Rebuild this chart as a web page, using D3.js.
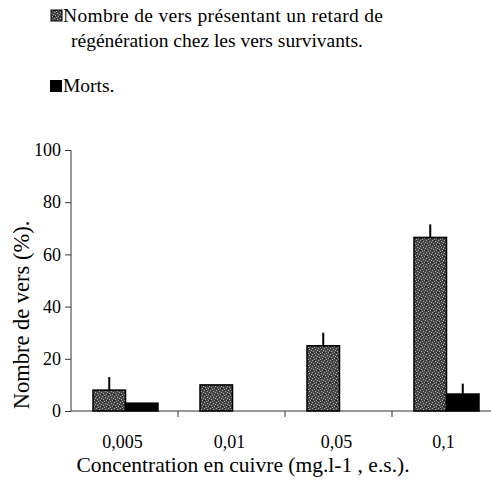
<!DOCTYPE html>
<html><head><meta charset="utf-8">
<script src="https://cdn.jsdelivr.net/npm/d3@7"></script>
</head>
<body style="margin:0;background:#fff"><svg id="c" width="491" height="481" font-family="Liberation Serif"></svg>
<script>
const categories = ["0,005", "0,01", "0,05", "0,1"];
const seriesNames = ["Nombre de vers présentant un retard de régénération chez les vers survivants.", "Morts."];
const retardValues = [8, 10, 25, 66.5];
const retardErrors = [5, 0, 5, 5];
const mortsValues = [3, 0, 0, 6.5];
const mortsErrors = [0, 0, 0, 4];
const yTicks = [0, 20, 40, 60, 80, 100];

const svg = d3.select("#c");
const defs = svg.append("defs");
const pat = defs.append("pattern").attr("id","stip").attr("patternUnits","userSpaceOnUse").attr("width",6).attr("height",6);
pat.append("rect").attr("width",6).attr("height",6).attr("fill","#474747");
[[0,0],[3,1],[1,3],[4,4],[2,5],[5,2]].forEach(([x,y])=>pat.append("rect").attr("x",x).attr("y",y).attr("width",1).attr("height",1).attr("fill","#a8a8a8"));
[[2,0],[5,4],[0,4]].forEach(([x,y])=>pat.append("rect").attr("x",x).attr("y",y).attr("width",1).attr("height",1).attr("fill","#222"));

const x0 = d3.scaleBand().domain(categories).range([71, 499]).padding(0);
const x1 = d3.scaleBand().domain([0,1]).range([22, 87]).padding(0);
const y = d3.scaleLinear().domain([0, 100]).range([411, 150]);

function st(sel, size){
  sel.attr("font-family","Liberation Serif").attr("font-size",size)
     .style("font-family","Liberation Serif").style("font-size",size+"px");
}

// y axis
const yAxis = svg.append("g").attr("transform","translate(71,0)")
  .call(d3.axisLeft(y).tickValues(yTicks).tickSize(6).tickPadding(4));
yAxis.attr("font-family","Liberation Serif").attr("font-size",18);
yAxis.select(".domain").attr("stroke","#333").attr("d","M0,411V150");
yAxis.selectAll("text").call(st, 18);
yAxis.selectAll(".tick line").attr("stroke","#333");

// x axis
const xg = svg.append("g").attr("transform","translate(0,411)");
xg.append("line").attr("x1",71).attr("x2",491).attr("stroke","#333").attr("stroke-width",1.2);
const bounds = categories.slice(1).map(c=>x0(c));
xg.selectAll(".xt").data(bounds).join("line").attr("x1",d=>d).attr("x2",d=>d).attr("y1",0).attr("y2",6).attr("stroke","#333");
xg.selectAll(".xl").data(categories).join("text")
  .attr("x",d=>x0(d)+x0.bandwidth()/2-2).attr("y",37).attr("text-anchor","middle")
  .call(st, 18).text(d=>d);

const groups = categories.map((c,i)=>[
  {c, s:0, v:retardValues[i], e:retardErrors[i]},
  {c, s:1, v:mortsValues[i], e:mortsErrors[i]}
]).flat();

const g = svg.append("g");
g.selectAll(".err").data(groups.filter(d=>d.e>0)).join("line")
  .attr("x1",d=>x0(d.c)+x1(d.s)+x1.bandwidth()/2).attr("x2",d=>x0(d.c)+x1(d.s)+x1.bandwidth()/2)
  .attr("y1",d=>y(d.v)).attr("y2",d=>y(d.v+d.e)).attr("stroke","#000").attr("stroke-width",2);
g.selectAll(".bar").data(groups.filter(d=>d.v>0)).join("rect")
  .attr("x",d=>x0(d.c)+x1(d.s)).attr("width",x1.bandwidth())
  .attr("y",d=>y(d.v)).attr("height",d=>y(0)-y(d.v))
  .attr("fill",d=>d.s===0?"url(#stip)":"#000")
  .attr("stroke","#000").attr("stroke-width",1.5);

// legend
const lg = svg.append("g");
lg.append("rect").attr("x",51).attr("y",10).attr("width",11).attr("height",11).attr("fill","url(#stip)").attr("stroke","#000");
lg.append("text").attr("x",63).attr("y",22).call(st,19.5).attr("textLength",320).attr("lengthAdjust","spacing").text("Nombre de vers présentant un retard de");
lg.append("text").attr("x",71).attr("y",47).call(st,19.5).text("régénération chez les vers survivants.");
lg.append("rect").attr("x",50).attr("y",80).attr("width",12).attr("height",12).attr("fill","#000");
lg.append("text").attr("x",63).attr("y",92).call(st,19.5).text("Morts.");

// axis titles
svg.append("text").attr("transform","translate(29,315) rotate(-90)").attr("text-anchor","middle").call(st,22.5).text("Nombre de vers (%).");
svg.append("text").attr("x",243).attr("y",472).attr("text-anchor","middle").call(st,21.5).text("Concentration en cuivre (mg.l-1 , e.s.).");
</script></body></html>
